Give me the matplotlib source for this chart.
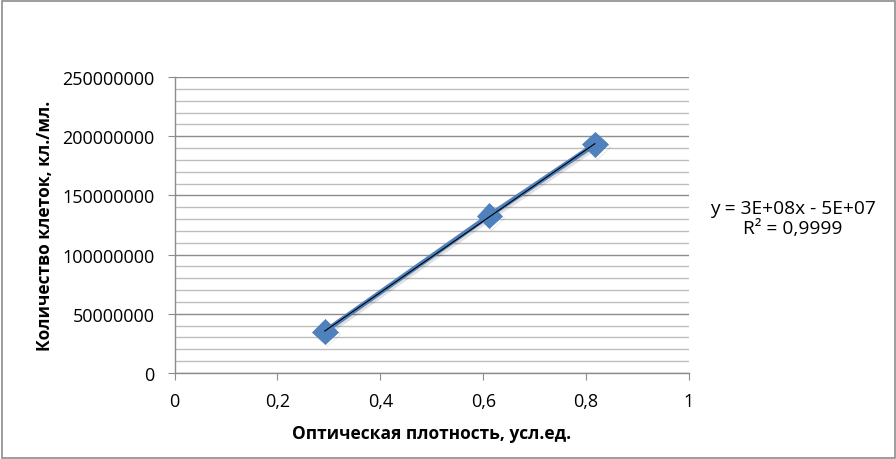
import numpy as np
import matplotlib
matplotlib.use("Agg")
import matplotlib.pyplot as plt
from matplotlib.patches import Rectangle
from matplotlib.ticker import MultipleLocator
import matplotlib.patheffects as pe

plt.rcParams['font.family'] = ['Open Sans', 'DejaVu Sans']

optical_density = [0.292, 0.612, 0.817]
cell_count = [35e6, 133e6, 193e6]
x_ticks = [0, 0.2, 0.4, 0.6, 0.8, 1.0]
x_tick_labels = ["0", "0,2", "0,4", "0,6", "0,8", "1"]
y_ticks = [0, 50e6, 100e6, 150e6, 200e6, 250e6]
y_tick_labels = ["0", "50000000", "100000000", "150000000", "200000000", "250000000"]
equation_text = "y = 3E+08x - 5E+07\nR² = 0,9999"
x_label = "Оптическая плотность, усл.ед."
y_label = "Количество клеток, кл./мл."

fig = plt.figure(figsize=(8.96, 4.60), dpi=100)
ax = fig.add_axes([174.5/896, 1-374/460, (689-174.5)/896, (374-78)/460])

ax.set_xlim(0, 1)
ax.set_ylim(0, 250e6)
ax.set_xticks(x_ticks)
ax.set_xticklabels(x_tick_labels)
ax.set_yticks(y_ticks)
ax.set_yticklabels(y_tick_labels)
ax.yaxis.set_minor_locator(MultipleLocator(10e6))
ax.grid(True, which='major', axis='y', color='#8c8c8c', lw=1.0)
ax.grid(True, which='minor', axis='y', color='#bdbdbd', lw=1.0)
ax.set_axisbelow(True)
ax.tick_params(axis='y', which='minor', length=0)
ax.tick_params(axis='both', which='major', direction='out', length=5, color='#8c8c8c',
               labelsize=13, labelcolor='#000000')
ax.tick_params(axis='y', which='major', pad=9.5)
ax.tick_params(axis='x', which='major', pad=9)
for s in ['top', 'right']:
    ax.spines[s].set_visible(False)
for s in ['left', 'bottom']:
    ax.spines[s].set_color('#8c8c8c')
    ax.spines[s].set_linewidth(1.0)

shadow = [pe.SimpleLineShadow(offset=(1.5, -1.5), shadow_color='#000000', alpha=0.12), pe.Normal()]
ax.plot(optical_density, cell_count, color='#4F81BD', lw=3.5, marker='D', ms=13,
        markerfacecolor='#4F81BD', markeredgecolor='#4A7EBB', markeredgewidth=0.5,
        path_effects=shadow, zorder=3, clip_on=False)

coef = np.polyfit(optical_density, cell_count, 1)
xs = np.array([min(optical_density), max(optical_density)])
ax.plot(xs, np.polyval(coef, xs), color='#000000', lw=0.8, zorder=4)

ax.set_xlabel(x_label, fontsize=12.5, fontweight='bold', labelpad=10)
ax.set_ylabel(y_label, fontsize=12.5, fontweight='bold', labelpad=5.5)

fig.text(793/896, 1-219/460, equation_text, ha='center', va='center', fontsize=13.8,
         linespacing=1.12)

fig.patches.append(Rectangle((1.5/896, 1.5/460), 893/896, 457/460, transform=fig.transFigure,
                             fill=False, edgecolor='#8c8c8c', lw=1.2))

fig.savefig("out.png", dpi=100)
